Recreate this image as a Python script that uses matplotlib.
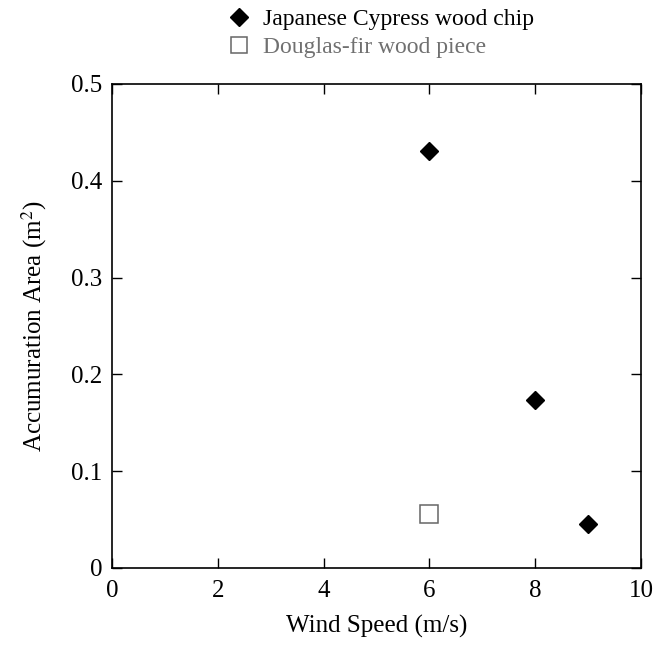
import matplotlib
matplotlib.use('Agg')
import matplotlib.pyplot as plt

### Data
cypress_speed = [6, 8, 9]
cypress_area = [0.431, 0.174, 0.045]
fir_speed = [6]
fir_area = [0.056]

xticks = [0, 2, 4, 6, 8, 10]
yticks = [0, 0.1, 0.2, 0.3, 0.4, 0.5]
ytick_labels = ['0', '0.1', '0.2', '0.3', '0.4', '0.5']

plt.rcParams['font.family'] = ['Liberation Serif', 'DejaVu Serif']
plt.rcParams['mathtext.fontset'] = 'stix'

fig = plt.figure(figsize=(6.55, 6.45), dpi=100)
ax = fig.add_axes([0.171, 0.1194, 0.8076, 0.7504])

p1, = ax.plot(cypress_speed, cypress_area, 'D', color='k', markersize=9.5, linestyle='none')
p2, = ax.plot(fir_speed, fir_area, 's', markerfacecolor='white', markeredgecolor='#666666',
              markeredgewidth=1.1, markersize=13, linestyle='none')

ax.set_xlim(0, 10)
ax.set_ylim(0, 0.5)
ax.set_xticks(xticks)
ax.set_xticklabels([str(v) for v in xticks])
ax.set_yticks(yticks)
ax.set_yticklabels(ytick_labels)
ax.tick_params(direction='in', length=7, width=1, top=True, right=True, labelsize=18)
ax.tick_params(axis='x', pad=9)
ax.tick_params(axis='y', pad=7)
for s in ax.spines.values():
    s.set_linewidth(1.2)

ax.set_xlabel('Wind Speed (m/s)', fontsize=18, labelpad=9)
ax.set_ylabel('Accumuration Area (m$^{2}$)', fontsize=18, labelpad=16)

leg = fig.legend([p1, p2], ['Japanese Cypress wood chip', 'Douglas-fir wood piece'],
                 loc='upper left', bbox_to_anchor=(0.315, 1.02), frameon=False,
                 fontsize=17, handletextpad=0.5, labelspacing=0.3,
                 labelcolor=['k', '#707070'], handlelength=1.0)
leg.legend_handles[0].set_markersize(9)
leg.legend_handles[1].set_markersize(12)

fig.savefig('out.png', dpi=100)
